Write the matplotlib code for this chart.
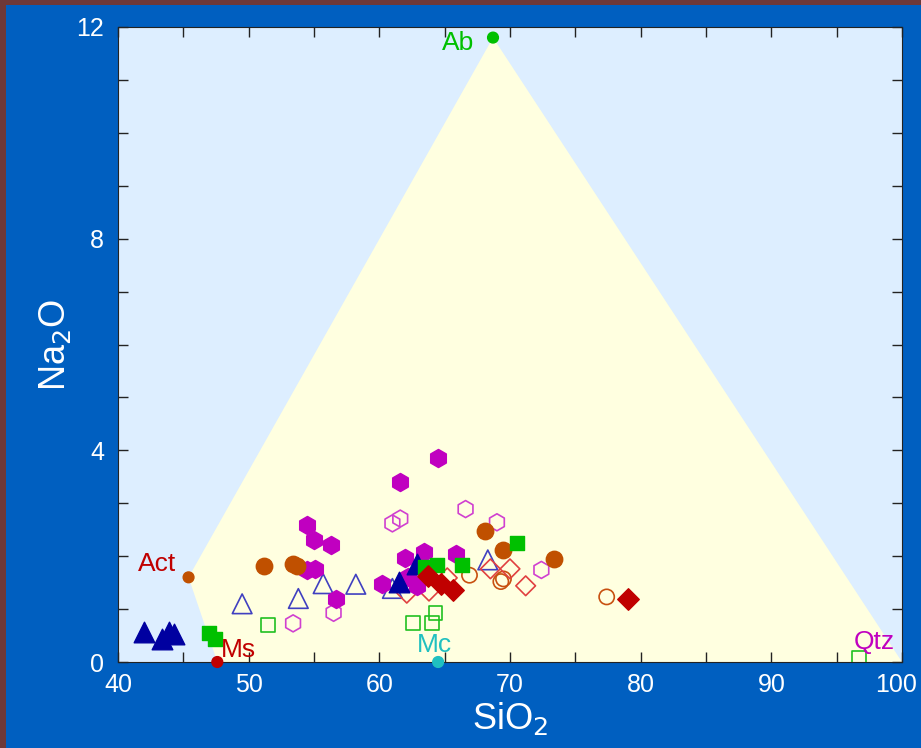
import matplotlib
matplotlib.use("Agg")
import matplotlib.pyplot as plt
from matplotlib.patches import Polygon, Rectangle
from matplotlib.ticker import MultipleLocator, FuncFormatter

plt.rcParams['font.family'] = ['Liberation Sans', 'DejaVu Sans']

# mineral end members (SiO2, Na2O)
minerals = ['Act', 'Ab', 'Qtz', 'Ms', 'Mc']
min_x = [45.4, 68.7, 100.0, 47.6, 64.5]
min_y = [1.6, 11.8, 0.0, 0.0, 0.0]
min_col = ['#c05000', '#00c000', 'none', '#c00000', '#20c0c0']
lab_col = ['#c00000', '#00c000', '#c000c0', '#c00000', '#20c0c0']
lab_x = [43.0, 66.0, 97.9, 49.2, 64.2]
lab_y = [1.86, 11.7, 0.38, 0.23, 0.32]

# samples
tri_f_x = [42.0, 43.4, 43.9, 44.3, 61.5, 62.9]
tri_f_y = [0.57, 0.44, 0.57, 0.53, 1.52, 1.86]
tri_o_x = [49.5, 53.8, 55.7, 58.2, 61.0, 68.3]
tri_o_y = [1.1, 1.2, 1.48, 1.47, 1.39, 1.93]
hex_f_x = [54.5, 55.0, 56.3, 54.5, 55.1, 56.7, 64.5, 61.6, 62.0, 63.4, 65.9, 60.2, 62.2, 62.9]
hex_f_y = [2.59, 2.31, 2.21, 1.74, 1.76, 1.2, 3.85, 3.4, 1.96, 2.07, 2.05, 1.48, 1.61, 1.44]
hex_o_x = [53.4, 56.5, 61.0, 61.6, 66.6, 69.0, 72.4]
hex_o_y = [0.73, 0.93, 2.62, 2.71, 2.89, 2.64, 1.74]
circ_f_x = [51.2, 53.4, 53.7, 68.1, 69.5, 73.4]
circ_f_y = [1.82, 1.85, 1.82, 2.48, 2.12, 1.95]
circ_o_x = [66.9, 69.3, 69.5, 77.4]
circ_o_y = [1.64, 1.52, 1.57, 1.23]
sq_f_x = [47.0, 47.4, 63.5, 64.4, 66.3, 70.5]
sq_f_y = [0.54, 0.44, 1.8, 1.83, 1.83, 2.24]
sq_o_x = [51.5, 62.6, 64.0, 64.3, 96.7]
sq_o_y = [0.7, 0.73, 0.73, 0.93, 0.08]
dia_f_x = [63.7, 64.7, 65.6, 79.0]
dia_f_y = [1.63, 1.47, 1.36, 1.2]
dia_o_x = [62.1, 63.8, 65.2, 68.5, 70.0, 71.2]
dia_o_y = [1.3, 1.34, 1.59, 1.76, 1.76, 1.44]

blue = '#005fc0'
fig = plt.figure(figsize=(9.21, 7.48), dpi=100, facecolor='#6e3838')
fig.patches.append(Rectangle((6/921, 0), 1, 1 - 5/748, transform=fig.transFigure,
                             facecolor=blue, edgecolor='none', zorder=-1))
ax = fig.add_axes([118/921, 86/748, 784/921, 635/748])
ax.set_facecolor('#ddeeff')
ax.set_xlim(40, 100)
ax.set_ylim(0, 12)

# field polygon Act-Ab-Qtz-Ms
ax.add_patch(Polygon([(min_x[0], min_y[0]), (min_x[1], min_y[1]), (min_x[2], min_y[2]),
                      (min_x[3], min_y[3])], closed=True, facecolor='#ffffe0',
                     edgecolor='none', zorder=0))

ax.scatter(tri_o_x, tri_o_y, marker='^', s=200, facecolors='none', edgecolors='#4040c0', linewidths=1.2, zorder=3)
ax.scatter(hex_o_x, hex_o_y, marker='h', s=150, facecolors='none', edgecolors='#d040d0', linewidths=1.2, zorder=3)
ax.scatter(circ_o_x, circ_o_y, marker='o', s=120, facecolors='none', edgecolors='#c85010', linewidths=1.2, zorder=3)
ax.scatter(sq_o_x, sq_o_y, marker='s', s=100, facecolors='none', edgecolors='#20c020', linewidths=1.2, zorder=3)
ax.scatter(dia_o_x, dia_o_y, marker='D', s=100, facecolors='none', edgecolors='#e04040', linewidths=1.2, zorder=3)
ax.scatter(hex_f_x, hex_f_y, marker='h', s=170, color='#c000c0', zorder=4)
ax.scatter(circ_f_x, circ_f_y, marker='o', s=140, color='#c05000', zorder=4)
ax.scatter(tri_f_x, tri_f_y, marker='^', s=220, color='#0000a0', zorder=4)
ax.scatter(sq_f_x, sq_f_y, marker='s', s=110, color='#00c000', zorder=4)
ax.scatter(dia_f_x, dia_f_y, marker='D', s=120, color='#c00000', zorder=4)

ax.scatter(min_x, min_y, s=60, c=min_col, zorder=5, clip_on=False)
for name, x, y, c in zip(minerals, lab_x, lab_y, lab_col):
    ax.text(x, y, name, color=c, fontsize=19, ha='center', va='center', zorder=6)

ax.xaxis.set_major_locator(MultipleLocator(10))
ax.xaxis.set_minor_locator(MultipleLocator(5))
ax.yaxis.set_major_locator(MultipleLocator(4))
ax.yaxis.set_minor_locator(MultipleLocator(1))
# the last x label is drawn separately, nudged in so it stays on the canvas
ax.xaxis.set_major_formatter(FuncFormatter(lambda v, p: '' if v >= 100 else f'{v:.0f}'))
ax.tick_params(which='both', direction='in', top=True, right=True, length=7,
               width=1, color='#222222', labelcolor='white', labelsize=18)
ax.tick_params(axis='x', pad=8)
ax.tick_params(axis='y', pad=10)
ax.annotate('100', xy=(100, 0), xycoords=('data', 'axes fraction'), xytext=(-4, -8),
            textcoords='offset points', ha='center', va='top', color='white',
            fontsize=18, annotation_clip=False)
for sp in ax.spines.values():
    sp.set_color('#222222')
ax.set_xlabel('SiO$_2$', color='white', fontsize=26, labelpad=2)
ax.set_ylabel('Na$_2$O', color='white', fontsize=26)
ax.yaxis.set_label_coords(-0.058, 0.5)

fig.savefig('out.png', dpi=100, facecolor=fig.get_facecolor())
